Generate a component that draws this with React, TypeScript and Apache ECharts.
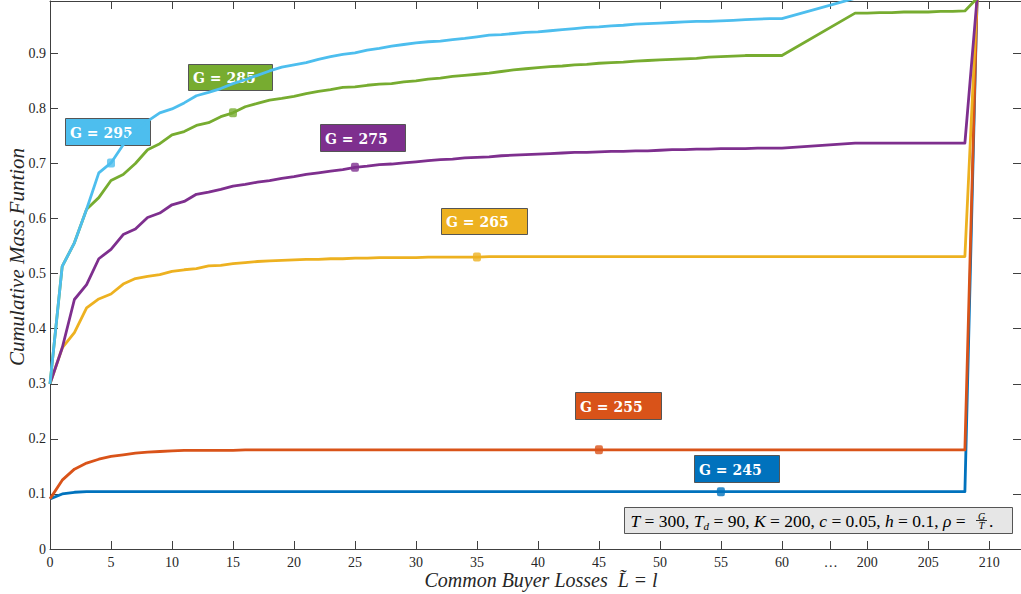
import React, { useEffect, useRef } from "react";
import * as echarts from "echarts";

// ---- data ----
const lowLosses = [
  0, 1, 2, 3, 4, 5, 6, 7, 8, 9, 10, 11, 12, 13, 14, 15, 16, 17, 18, 19, 20,
  21, 22, 23, 24, 25, 26, 27, 28, 29, 30, 31, 32, 33, 34, 35, 36, 37, 38, 39, 40,
  41, 42, 43, 44, 45, 46, 47, 48, 49, 50, 51, 52, 53, 54, 55, 56, 57, 58, 59, 60,
];
const highLosses = [199, 200, 201, 202, 203, 204, 205, 206, 207, 208, 209];
const lossLevels = [...lowLosses, ...highLosses];

// values at each loss level (61 low + 11 high)
const cmfG295 = [
  0.3, 0.513, 0.556, 0.617, 0.683, 0.701, 0.734, 0.758, 0.777, 0.792, 0.799,
  0.81, 0.823, 0.829, 0.836, 0.845, 0.852, 0.86, 0.868, 0.875, 0.879,
  0.883, 0.889, 0.894, 0.898, 0.901, 0.906, 0.909, 0.913, 0.916, 0.919,
  0.921, 0.922, 0.925, 0.927, 0.93, 0.933, 0.934, 0.936, 0.938, 0.939,
  0.941, 0.943, 0.945, 0.947, 0.948, 0.95, 0.951, 0.953, 0.954, 0.955,
  0.956, 0.957, 0.958, 0.958, 0.959, 0.96, 0.961, 0.962, 0.963, 0.963,
  1, 1, 1, 1, 1, 1, 1, 1, 1, 1, 1,
];
const cmfG285 = [
  0.3, 0.513, 0.556, 0.617, 0.638, 0.669, 0.68, 0.7, 0.725, 0.736, 0.752,
  0.758, 0.769, 0.774, 0.785, 0.792, 0.803, 0.809, 0.815, 0.818, 0.822,
  0.827, 0.831, 0.834, 0.838, 0.839, 0.842, 0.844, 0.845, 0.848, 0.85,
  0.853, 0.855, 0.858, 0.86, 0.862, 0.864, 0.867, 0.87, 0.872, 0.874,
  0.876, 0.877, 0.879, 0.88, 0.882, 0.883, 0.884, 0.886, 0.887, 0.888,
  0.889, 0.89, 0.891, 0.893, 0.894, 0.895, 0.896, 0.896, 0.896, 0.896,
  0.973, 0.973, 0.974, 0.974, 0.975, 0.975, 0.975, 0.976, 0.976, 0.977, 1,
];
const cmfG275 = [
  0.3, 0.365, 0.453, 0.48, 0.527, 0.544, 0.571, 0.581, 0.602, 0.61, 0.625,
  0.631, 0.644, 0.648, 0.653, 0.659, 0.662, 0.666, 0.669, 0.673, 0.676,
  0.68, 0.683, 0.686, 0.689, 0.693, 0.695, 0.698, 0.699, 0.701, 0.703,
  0.705, 0.707, 0.708, 0.71, 0.711, 0.712, 0.714, 0.715, 0.716, 0.717,
  0.718, 0.719, 0.72, 0.72, 0.721, 0.722, 0.722, 0.723, 0.723, 0.724,
  0.725, 0.725, 0.726, 0.726, 0.727, 0.727, 0.727, 0.728, 0.728, 0.728,
  0.737, 0.737, 0.737, 0.737, 0.737, 0.737, 0.737, 0.737, 0.737, 0.737, 1,
];
const cmfG265 = [
  0.3, 0.365, 0.393, 0.438, 0.454, 0.463, 0.481, 0.491, 0.495, 0.498, 0.504,
  0.507, 0.509, 0.514, 0.515, 0.518, 0.52, 0.522, 0.523, 0.524, 0.525,
  0.526, 0.526, 0.527, 0.527, 0.528, 0.528, 0.529, 0.529, 0.529, 0.529,
  0.53, 0.53, 0.53, 0.53, 0.53, 0.531, 0.531, 0.531, 0.531, 0.531,
  0.531, 0.531, 0.531, 0.531, 0.531, 0.531, 0.531, 0.531, 0.531, 0.531,
  0.531, 0.531, 0.531, 0.531, 0.531, 0.531, 0.531, 0.531, 0.531, 0.531,
  0.531, 0.531, 0.531, 0.531, 0.531, 0.531, 0.531, 0.531, 0.531, 0.531, 1,
];
const cmfG255 = [
  0.091, 0.125, 0.145, 0.156, 0.163, 0.168, 0.171, 0.174, 0.176, 0.177, 0.178,
  0.179, 0.179, 0.179, 0.179, 0.179, 0.18, 0.18, 0.18, 0.18, 0.18,
  0.18, 0.18, 0.18, 0.18, 0.18, 0.18, 0.18, 0.18, 0.18, 0.18,
  0.18, 0.18, 0.18, 0.18, 0.18, 0.18, 0.18, 0.18, 0.18, 0.18,
  0.18, 0.18, 0.18, 0.18, 0.18, 0.18, 0.18, 0.18, 0.18, 0.18,
  0.18, 0.18, 0.18, 0.18, 0.18, 0.18, 0.18, 0.18, 0.18, 0.18,
  0.18, 0.18, 0.18, 0.18, 0.18, 0.18, 0.18, 0.18, 0.18, 0.18, 1,
];
const cmfG245 = [
  0.091, 0.1, 0.103, 0.104, 0.104, 0.104, 0.104, 0.104, 0.104, 0.104, 0.104,
  0.104, 0.104, 0.104, 0.104, 0.104, 0.104, 0.104, 0.104, 0.104, 0.104,
  0.104, 0.104, 0.104, 0.104, 0.104, 0.104, 0.104, 0.104, 0.104, 0.104,
  0.104, 0.104, 0.104, 0.104, 0.104, 0.104, 0.104, 0.104, 0.104, 0.104,
  0.104, 0.104, 0.104, 0.104, 0.104, 0.104, 0.104, 0.104, 0.104, 0.104,
  0.104, 0.104, 0.104, 0.104, 0.104, 0.104, 0.104, 0.104, 0.104, 0.104,
  0.104, 0.104, 0.104, 0.104, 0.104, 0.104, 0.104, 0.104, 0.104, 0.104, 1,
];

const seriesNames = ["G = 245", "G = 255", "G = 265", "G = 275", "G = 285", "G = 295"];
const seriesValues = [cmfG245, cmfG255, cmfG265, cmfG275, cmfG285, cmfG295];
const seriesColors = ["#0072BD", "#D95319", "#EDB120", "#7E2F8E", "#77AC30", "#4DBEEE"];
const markerLosses = [55, 45, 35, 25, 15, 5];

const xTickLosses = [0, 5, 10, 15, 20, 25, 30, 35, 40, 45, 50, 55, 60, 200, 205, 210];
const xBreakLabel = "…";
const yTickValues = [0, 0.1, 0.2, 0.3, 0.4, 0.5, 0.6, 0.7, 0.8, 0.9];
const yTickLabels = ["0", "0.1", "0.2", "0.3", "0.4", "0.5", "0.6", "0.7", "0.8", "0.9"];

// broken x-axis: 0..60 continuous, then jump to 199+
const BREAK_POS = 64;
const axisPos = (l: number) => (l <= 60 ? l : l - 133);

const SERIF = "Liberation Serif, Times New Roman, serif";
const LABEL_FONT = "DejaVu Serif, serif";
const AXIS_COLOR = "#404040";
const TEXT_COLOR = "#262626";

export default function App() {
  const ref = useRef<HTMLDivElement>(null);

  useEffect(() => {
    if (!ref.current) return;
    const chart = echarts.init(ref.current, undefined, { renderer: "svg" });

    const xTickPositions = [...xTickLosses.map(axisPos), BREAK_POS].sort((a, b) => a - b);
    const xLabelFor = (v: number) => {
      if (Math.abs(v - BREAK_POS) < 1e-6) return xBreakLabel;
      const idx = xTickLosses.findIndex((l) => Math.abs(axisPos(l) - v) < 1e-6);
      return idx >= 0 ? String(xTickLosses[idx]) : "";
    };
    const yLabelFor = (v: number) => {
      const idx = yTickValues.findIndex((t) => Math.abs(t - v) < 1e-6);
      return idx >= 0 ? yTickLabels[idx] : "";
    };

    const X_MAX = 79.6;
    const Y_MAX = 0.995;

    const axisCommonX = {
      type: "value",
      min: 0,
      max: X_MAX,
      axisLine: { show: true, onZero: false, lineStyle: { color: AXIS_COLOR, width: 1 } },
      axisTick: {
        show: true,
        inside: true,
        length: 8,
        customValues: xTickPositions,
        lineStyle: { color: AXIS_COLOR, width: 1 },
      },
      splitLine: { show: false },
    };
    const axisCommonY = {
      type: "value",
      min: 0,
      max: Y_MAX,
      axisLine: { show: true, onZero: false, lineStyle: { color: AXIS_COLOR, width: 1 } },
      axisTick: {
        show: true,
        inside: true,
        length: 8,
        customValues: yTickValues,
        lineStyle: { color: AXIS_COLOR, width: 1 },
      },
      splitLine: { show: false },
    };

    const lineSeries = seriesNames.map((name, s) => ({
      name,
      type: "line",
      xAxisIndex: 0,
      yAxisIndex: 0,
      data: lossLevels.map((l, i) => [axisPos(l), seriesValues[s][i]]),
      showSymbol: false,
      symbol: "none",
      clip: true,
      lineStyle: { color: seriesColors[s], width: 2.8, join: "round" },
      itemStyle: { color: seriesColors[s] },
      z: 2 + s,
    }));

    const markerSeries = seriesNames.map((name, s) => {
      const idx = lossLevels.indexOf(markerLosses[s]);
      return {
        name: name + " marker",
        type: "scatter",
        xAxisIndex: 0,
        yAxisIndex: 0,
        data: [[axisPos(markerLosses[s]), seriesValues[s][idx]]],
        symbol: "roundRect",
        symbolSize: [8, 9],
        itemStyle: { color: seriesColors[s] },
        z: 10,
      };
    });

    const labelBoxes = [
      { text: "G = 295", color: seriesColors[5], x: 65, y: 118, w: 85, h: 27 },
      { text: "G = 285", color: seriesColors[4], x: 188, y: 64, w: 84, h: 26 },
      { text: "G = 275", color: seriesColors[3], x: 320, y: 124, w: 85, h: 27 },
      { text: "G = 265", color: seriesColors[2], x: 441, y: 208, w: 86, h: 26 },
      { text: "G = 255", color: seriesColors[1], x: 575, y: 392, w: 86, h: 27 },
      { text: "G = 245", color: seriesColors[0], x: 694, y: 455, w: 85, h: 27 },
    ];

    const graphics: any[] = labelBoxes.map((b) => ({
      type: "group",
      z: 100,
      children: [
        {
          type: "rect",
          shape: { x: b.x + 0.5, y: b.y + 0.5, width: b.w, height: b.h },
          style: { fill: b.color, stroke: "#555555", lineWidth: 1 },
        },
        {
          type: "text",
          x: b.x + 5,
          y: b.y + b.h / 2 + 1,
          style: {
            text: b.text,
            fill: "#ffffff",
            fontFamily: LABEL_FONT,
            fontWeight: "bold",
            fontSize: 14,
            align: "left",
            verticalAlign: "middle",
          },
        },
      ],
    }));

    // parameter annotation box
    graphics.push({
      type: "group",
      z: 100,
      children: [
        {
          type: "rect",
          shape: { x: 624.5, y: 507.5, width: 388, height: 26 },
          style: { fill: "#e6e6e6", stroke: "#555555", lineWidth: 1 },
        },
        {
          type: "text",
          x: 970,
          y: 521,
          style: {
            text:
              "{i|T}{r| = 300, }{i|T}{s|d}{r| = 90, }{i|K}{r| = 200, }{i|c}{r| = 0.05, }{i|h}{r| = 0.1, }{i|ρ}{r| = }",
            align: "right",
            verticalAlign: "middle",
            fill: "#000",
            rich: {
              i: { fontFamily: SERIF, fontStyle: "italic", fontSize: 17.5, fill: "#000", lineHeight: 20 },
              r: { fontFamily: SERIF, fontSize: 17.5, fill: "#000", lineHeight: 20 },
              s: {
                fontFamily: SERIF,
                fontStyle: "italic",
                fontSize: 11,
                fill: "#000",
                lineHeight: 20,
                verticalAlign: "bottom",
              },
            },
          },
        },
        {
          type: "text",
          x: 981.5,
          y: 516,
          style: { text: "G", fontFamily: SERIF, fontStyle: "italic", fontSize: 10, fill: "#000", align: "center", verticalAlign: "middle" },
        },
        {
          type: "line",
          shape: { x1: 976, y1: 520.5, x2: 987, y2: 520.5 },
          style: { stroke: "#000", lineWidth: 0.8 },
        },
        {
          type: "text",
          x: 981.5,
          y: 525.5,
          style: { text: "T", fontFamily: SERIF, fontStyle: "italic", fontSize: 10, fill: "#000", align: "center", verticalAlign: "middle" },
        },
        {
          type: "text",
          x: 989,
          y: 521,
          style: { text: ".", fontFamily: SERIF, fontSize: 17.5, fill: "#000", align: "left", verticalAlign: "middle" },
        },
      ],
    });

    // axis titles
    graphics.push({
      type: "text",
      x: 17,
      y: 257,
      rotation: Math.PI / 2,
      style: {
        text: "Cumulative Mass Funtion",
        fontFamily: SERIF,
        fontStyle: "italic",
        fontSize: 21,
        fill: TEXT_COLOR,
        align: "center",
        verticalAlign: "middle",
      },
    });
    graphics.push({
      type: "text",
      x: 541,
      y: 580,
      style: {
        text: "Common Buyer Losses  L\u0303 = l",
        fontFamily: SERIF,
        fontStyle: "italic",
        fontSize: 20,
        fill: TEXT_COLOR,
        align: "center",
        verticalAlign: "middle",
      },
    });

    const option: any = {
      animation: false,
      backgroundColor: "#ffffff",
      grid: { left: 50, right: -1, top: 1, bottom: 45, containLabel: false },
      xAxis: [
        {
          ...axisCommonX,
          position: "bottom",
          axisLabel: {
            show: true,
            customValues: xTickPositions,
            formatter: (v: number) => xLabelFor(v),
            color: TEXT_COLOR,
            fontFamily: SERIF,
            fontSize: 14,
            margin: 6,
          },
        },
        {
          ...axisCommonX,
          position: "top",
          axisLabel: { show: false },
        },
      ],
      yAxis: [
        {
          ...axisCommonY,
          position: "left",
          axisLabel: {
            show: true,
            customValues: yTickValues,
            formatter: (v: number) => yLabelFor(v),
            color: TEXT_COLOR,
            fontFamily: SERIF,
            fontSize: 14,
            margin: 4,
          },
        },
        {
          ...axisCommonY,
          position: "right",
          axisLabel: { show: false },
        },
      ],
      series: [...lineSeries, ...markerSeries],
      graphic: graphics,
    };

    chart.setOption(option);
    return () => chart.dispose();
  }, []);

  return (
    <div
      ref={ref}
      style={{ position: "fixed", left: 0, top: 0, width: 1021, height: 594, background: "#fff" }}
    />
  );
}
